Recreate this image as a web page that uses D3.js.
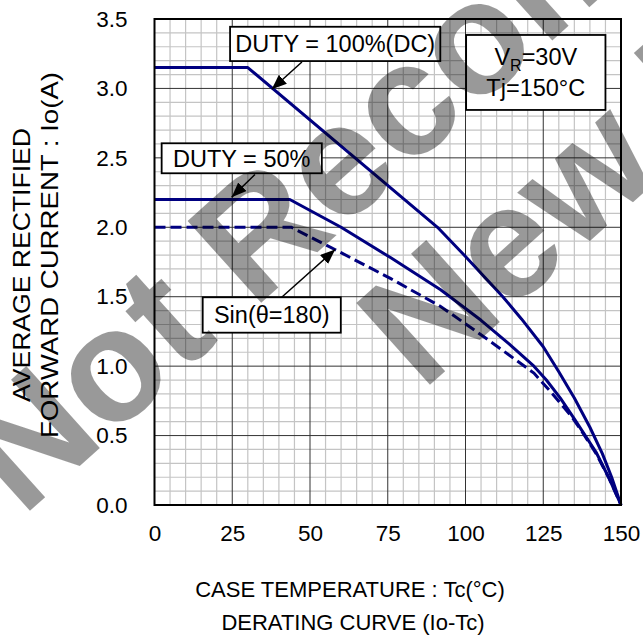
<!DOCTYPE html>
<html>
<head>
<meta charset="utf-8">
<script src="https://cdn.jsdelivr.net/npm/d3@7"></script>
<style>
  body { margin: 0; background: #fff; }
  text { font-family: Arial, "Liberation Sans", sans-serif; fill: #000; }
</style>
</head>
<body>
<svg id="chart" width="643" height="640"></svg>
<script>
// tick values
const xTicks = [0, 25, 50, 75, 100, 125, 150];
const yTicks = [0, 0.5, 1.0, 1.5, 2.0, 2.5, 3.0, 3.5];

// curves: [Tc (°C), Io (A)]
const dcCurve = [[0,3.15],[30,3.15],[91,2.0],[100,1.79],[107,1.62],[112,1.50],[118,1.34],
                 [125,1.14],[130,0.96],[135,0.77],[140,0.56],[144,0.37],[147,0.2],[150,0]];
const duty50Curve = [[0,2.2],[43.5,2.2],[60,2.0],[76,1.78],[92,1.55],[105,1.33],[114,1.16],
                     [122,1.0],[126,0.9],[130.5,0.77],[135,0.62],[138.5,0.5],[142,0.38],[146,0.2],[150,0]];
const sinCurve = [[0,2.0],[44,2.0],[58,1.84],[76,1.63],[92,1.43],[106,1.21],[114,1.08],
                  [122,0.95],[128,0.8],[134,0.64],[138,0.51],[142,0.37],[146,0.2],[150,0]];

const W = 643, H = 640;
const m = { left: 154.5, right: 22, top: 19, bottom: 135 };
const svg = d3.select("#chart");

const x = d3.scaleLinear().domain([0, 150]).range([m.left, W - m.right]);
const y = d3.scaleLinear().domain([0, 3.5]).range([H - m.bottom, m.top]);

// minor grid
const grid = svg.append("g");
grid.selectAll(".vx").data(d3.range(5, 150, 5).filter(v => v % 25)).enter().append("line")
    .attr("x1", d => x(d)).attr("x2", d => x(d)).attr("y1", y(0)).attr("y2", y(3.5))
    .attr("stroke", "#c4c4c4").attr("stroke-width", 1.2);
grid.selectAll(".hy").data(d3.range(1, 35).filter(v => v % 5)).enter().append("line")
    .attr("y1", d => y(d / 10)).attr("y2", d => y(d / 10)).attr("x1", x(0)).attr("x2", x(150))
    .attr("stroke", "#c4c4c4").attr("stroke-width", 1.2);

// major grid
grid.selectAll(".mx").data(xTicks.slice(1, -1)).enter().append("line")
    .attr("x1", d => x(d)).attr("x2", d => x(d)).attr("y1", y(0)).attr("y2", y(3.5))
    .attr("stroke", "#333").attr("stroke-width", 1);
grid.selectAll(".my").data(yTicks.slice(1, -1)).enter().append("line")
    .attr("y1", d => y(d)).attr("y2", d => y(d)).attr("x1", x(0)).attr("x2", x(150))
    .attr("stroke", "#333").attr("stroke-width", 1);

// axes (labels only, frame drawn below)
const xAxis = svg.append("g").attr("transform", `translate(0,${y(0)})`)
    .call(d3.axisBottom(x).tickValues(xTicks).tickSize(0).tickPadding(20));
const yAxis = svg.append("g").attr("transform", `translate(${x(0)},0)`)
    .call(d3.axisLeft(y).tickValues(yTicks).tickFormat(d3.format(".1f")).tickSize(0).tickPadding(27));
[xAxis, yAxis].forEach(a => {
    a.select(".domain").remove();
    a.selectAll("text").style("font-size", "22.5px").style("font-family", "Arial, 'Liberation Sans', sans-serif");
});
xAxis.selectAll("text").attr("dy", "0.71em");

// curves
const line = d3.line().x(d => x(d[0])).y(d => y(d[1]));
svg.append("path").datum(dcCurve).attr("d", line)
    .attr("fill", "none").attr("stroke", "#000080").attr("stroke-width", 3).attr("stroke-linejoin", "round");
svg.append("path").datum(duty50Curve).attr("d", line)
    .attr("fill", "none").attr("stroke", "#000080").attr("stroke-width", 3).attr("stroke-linejoin", "round");
svg.append("path").datum(sinCurve).attr("d", line)
    .attr("fill", "none").attr("stroke", "#000080").attr("stroke-width", 3).attr("stroke-dasharray", "11,5");

// frame
svg.append("rect").attr("x", x(0)).attr("y", y(3.5))
    .attr("width", x(150) - x(0)).attr("height", y(0) - y(3.5))
    .attr("fill", "none").attr("stroke", "#000").attr("stroke-width", 2);

// arrow marker
svg.append("defs").append("marker").attr("id", "head")
    .attr("viewBox", "-15 -6 15 12").attr("refX", 0).attr("refY", 0)
    .attr("markerWidth", 15).attr("markerHeight", 12).attr("markerUnits", "userSpaceOnUse")
    .attr("orient", "auto")
  .append("path").attr("d", "M0,0L-15,-6L-15,6Z").attr("fill", "#000");

// annotations (data units): box [x0, yTop, x1, yBottom], arrow [from, to]
const notes = [
    { text: "DUTY = 100%(DC)", box: [24.3, 3.444, 91.9, 3.197], arrow: [[47.4, 3.19], [37.7, 2.994]] },
    { text: "DUTY = 50%",      box: [2.3, 2.605, 53.8, 2.389],  arrow: [[32.3, 2.38], [24.8, 2.216]] },
    { text: "Sin(θ=180)",      box: [15.5, 1.496, 59.9, 1.241], arrow: [[40.9, 1.496], [58.1, 1.84]] }
];
notes.forEach(n => {
    svg.append("line")
        .attr("x1", x(n.arrow[0][0])).attr("y1", y(n.arrow[0][1]))
        .attr("x2", x(n.arrow[1][0])).attr("y2", y(n.arrow[1][1]))
        .attr("stroke", "#000").attr("stroke-width", 1.5).attr("marker-end", "url(#head)");
    const [bx0, by0, bx1, by1] = n.box;
    svg.append("rect").attr("x", x(bx0)).attr("y", y(by0))
        .attr("width", x(bx1) - x(bx0)).attr("height", y(by1) - y(by0))
        .attr("fill", "#fff").attr("stroke", "#000").attr("stroke-width", 1.8);
    svg.append("text").attr("x", (x(bx0) + x(bx1)) / 2).attr("y", (y(by0) + y(by1)) / 2)
        .attr("dy", "0.36em").attr("text-anchor", "middle").style("font-size", "23.5px")
        .text(n.text);
});

// condition box
const cond = [100.2, 3.385, 145.0, 2.845];
svg.append("rect").attr("x", x(cond[0])).attr("y", y(cond[1]))
    .attr("width", x(cond[2]) - x(cond[0])).attr("height", y(cond[3]) - y(cond[1]))
    .attr("fill", "#fff").attr("stroke", "#000").attr("stroke-width", 1.8);
const cx = (x(cond[0]) + x(cond[2])) / 2;
const t1 = svg.append("text").attr("x", cx).attr("y", y(cond[1]) + 30)
    .attr("text-anchor", "middle").style("font-size", "23.5px");
t1.append("tspan").text("V");
t1.append("tspan").attr("dy", 6).style("font-size", "16px").text("R");
t1.append("tspan").attr("dy", -6).text("=30V");
svg.append("text").attr("x", cx).attr("y", y(cond[1]) + 61)
    .attr("text-anchor", "middle").style("font-size", "23.5px").text("Tj=150°C");

// axis titles
svg.append("text").attr("x", 350).attr("y", 597).attr("text-anchor", "middle")
    .style("font-size", "22px").text("CASE TEMPERATURE : Tc(°C)");
svg.append("text").attr("x", 353).attr("y", 630).attr("text-anchor", "middle")
    .style("font-size", "22px").text("DERATING CURVE (Io-Tc)");
svg.append("text").attr("transform", "translate(30,265) rotate(-90)").attr("text-anchor", "middle")
    .style("font-size", "24px").attr("textLength", 274).attr("lengthAdjust", "spacingAndGlyphs")
    .text("AVERAGE RECTIFIED");
svg.append("text").attr("transform", "translate(58,255) rotate(-90)").attr("text-anchor", "middle")
    .style("font-size", "24px").attr("textLength", 366).attr("lengthAdjust", "spacingAndGlyphs")
    .text("FORWARD CURRENT : Io(A)");

// watermark stamp, clipped to the page
svg.append("clipPath").attr("id", "page").append("rect").attr("width", W).attr("height", H);
const stamp = svg.append("g").attr("clip-path", "url(#page)").attr("pointer-events", "none");
stamp.append("text").attr("transform", "translate(22,518) rotate(-42)")
    .style("font-size", "160px").style("font-weight", "bold").style("fill", "#000").style("fill-opacity", 0.4)
    .text("Not Recommended for");
stamp.append("text").attr("transform", "translate(422,392) rotate(-42)")
    .style("font-size", "160px").style("font-weight", "bold").style("fill", "#000").style("fill-opacity", 0.4)
    .text("New Designs");
</script>
</body>
</html>
